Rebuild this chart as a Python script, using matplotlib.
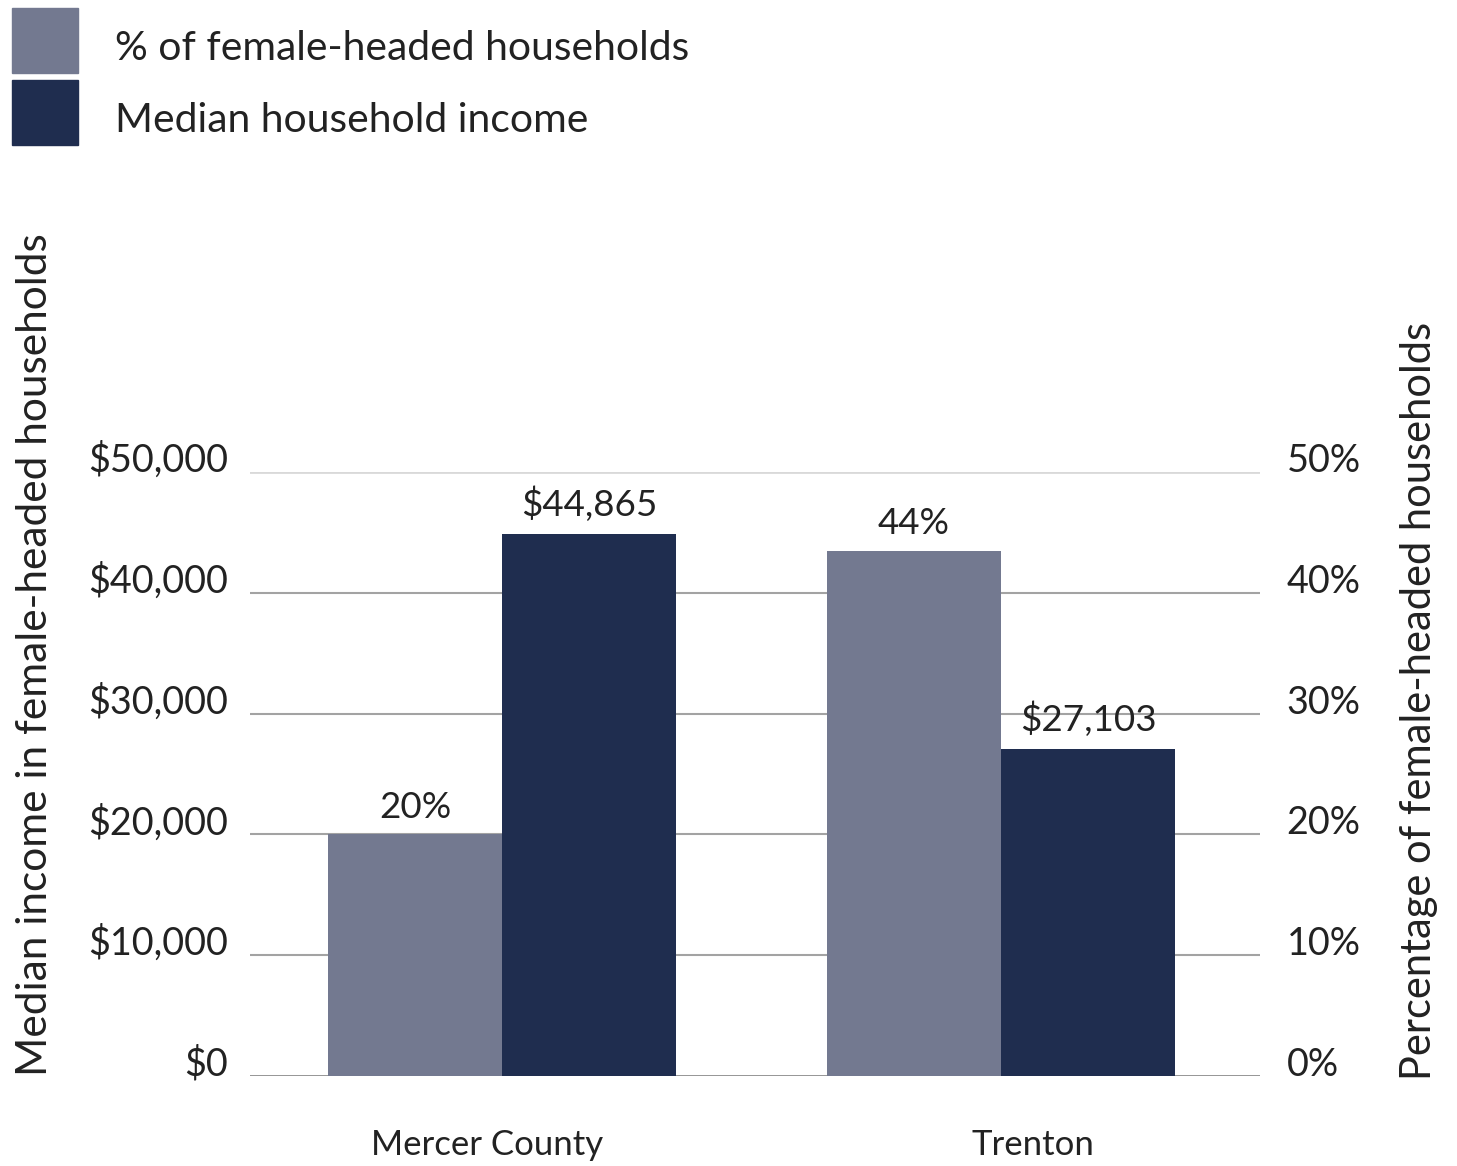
import matplotlib
matplotlib.use("Agg")
import matplotlib.pyplot as plt
import numpy as np
from matplotlib.patches import Rectangle

plt.rcParams['font.family'] = ['Lato', 'DejaVu Sans']

categories = ["Mercer County", "Trenton"]
pct_female = [20, 43.5]
pct_labels = ["20%", "44%"]
income = [44865, 27103]
income_labels = ["$44,865", "$27,103"]
left_ticks = [0, 10000, 20000, 30000, 40000, 50000]
left_ticklabels = ["$0", "$10,000", "$20,000", "$30,000", "$40,000", "$50,000"]
right_ticks = [0, 10, 20, 30, 40, 50]
right_ticklabels = ["0%", "10%", "20%", "30%", "40%", "50%"]

gray = "#737990"
navy = "#1f2d4f"
textc = "#222222"

fig = plt.figure(figsize=(14.57, 11.66), dpi=100)
ax = fig.add_axes([0.1716, 0.0772, 0.6932, 0.5180])
ax2 = ax.twinx()

x = np.arange(len(categories))
w = 0.349

for t in left_ticks:
    if t == 50000:
        ax.axhline(t, color="#d9d9d9", lw=2, zorder=0)
    elif t == 0:
        ax.axhline(t, color="#8c8c8c", lw=2, zorder=0)
    else:
        ax.axhline(t, color="#a3a3a3", lw=1.5, zorder=0)

bars_inc = ax.bar(x + w / 2, income, width=w, color=navy, zorder=2)
bars_pct = ax2.bar(x - w / 2, pct_female, width=w, color=gray, zorder=2)

for b, lab in zip(bars_inc, income_labels):
    ax.text(b.get_x() + b.get_width() / 2, b.get_height() + 1000, lab,
            ha="center", va="bottom", fontsize=26.5, color=textc)
for b, lab in zip(bars_pct, pct_labels):
    ax2.text(b.get_x() + b.get_width() / 2, b.get_height() + 0.9, lab,
             ha="center", va="bottom", fontsize=26.5, color=textc)

ax.set_ylim(0, 50000)
ax2.set_ylim(0, 50)
ax.set_xlim(-0.505, 1.519)

ax.set_yticks(left_ticks)
ax.set_yticklabels(left_ticklabels, fontsize=27.2, color=textc, va="baseline")
ax2.set_yticks(right_ticks)
ax2.set_yticklabels(right_ticklabels, fontsize=27.2, color=textc, va="baseline")
ax.tick_params(axis="y", length=0, pad=16)
ax2.tick_params(axis="y", length=0, pad=19)

ax.set_xticks([-0.03, 1.064])
ax.set_xticklabels(categories, fontsize=25, color=textc)
ax.tick_params(axis="x", length=0, pad=38)

for a in (ax, ax2):
    for s in a.spines.values():
        s.set_visible(False)

fig.text(0.011, 0.0772, "Median income in female-headed households", rotation=90,
         ha="left", va="bottom", fontsize=30.5, color=textc)
fig.text(0.961, 0.074, "Percentage of female-headed households", rotation=90,
         ha="left", va="bottom", fontsize=30, color=textc)

W, H = 1457, 1166
fig.patches.append(Rectangle((12 / W, 1 - 73 / H), 66 / W, 65 / H, transform=fig.transFigure,
                             color=gray, figure=fig))
fig.patches.append(Rectangle((12 / W, 1 - 145 / H), 66 / W, 65 / H, transform=fig.transFigure,
                             color=navy, figure=fig))
fig.text(115 / W, 1 - 48 / H, "% of female-headed households", fontsize=29.4, color=textc,
         ha="left", va="center")
fig.text(115 / W, 1 - 120 / H, "Median household income", fontsize=29.4, color=textc,
         ha="left", va="center")

fig.savefig("out.png", dpi=100)
